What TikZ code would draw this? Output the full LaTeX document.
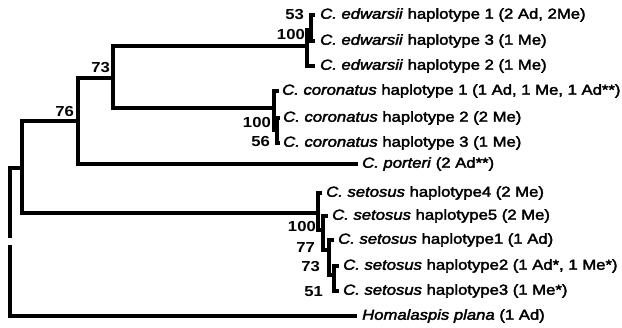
\documentclass[tikz,border=0pt]{standalone}
\usepackage{fontspec}
\setmainfont{Liberation Sans}[FakeStretch=1.15,
  UprightFeatures={FakeBold=2.5}, ItalicFeatures={FakeBold=2.5}]
\begin{document}
\begin{tikzpicture}[x=1pt,y=-1pt,
  br/.style={line width=3.1pt, line join=miter},
  lab/.style={anchor=west, inner sep=0pt, font=\fontsize{14.5}{16}\selectfont},
  bs/.style={anchor=east, inner sep=0pt, font=\fontsize{14.5}{16}\selectfont\bfseries}]
\useasboundingbox[fill=white] (0,0) rectangle (622,328);
% internal nodes and tips
\coordinate (n0) at (10,168);
\coordinate (gapA) at (10,238);
\coordinate (gapB) at (10,245);
\coordinate (n1) at (22,168);
\coordinate (n76) at (78,121);
\coordinate (nS1) at (318,213);
\coordinate (n73) at (113,78);
\coordinate (tPor) at (358,164);
\coordinate (nE) at (307,46);
\coordinate (nC) at (274,108);
\coordinate (nE2) at (311,30);
\coordinate (tE1) at (315,15);
\coordinate (tE3) at (315,41);
\coordinate (tE2) at (315,66);
\coordinate (nC2) at (277,130);
\coordinate (tC1) at (279,91);
\coordinate (tC2) at (280,118);
\coordinate (tC3) at (280,143);
\coordinate (tS4) at (322,193);
\coordinate (nS2) at (323,230);
\coordinate (tS5) at (328,216);
\coordinate (nS3) at (329,250);
\coordinate (tS1) at (334,240);
\coordinate (nS4) at (334,275);
\coordinate (tS2) at (339,266);
\coordinate (tS3) at (339,291);
\coordinate (tHom) at (357,316);
% branches
\draw[br] (n1) -| (n0) -- (gapA);
\draw[br] (gapB) |- (tHom);
\draw[br] (n76) -| (n1) |- (nS1);
\draw[br] (n73) -| (n76) |- (tPor);
\draw[br] (nE) -| (n73) |- (nC);
\draw[br] (nE2) -| (nE) |- (tE2);
\draw[br] (tE1) -| (nE2) |- (tE3);
\draw[br] (tC1) -| (nC) |- (nC2);
\draw[br] (tC2) -| (nC2) |- (tC3);
\draw[br] (tS4) -| (nS1) |- (nS2);
\draw[br] (tS5) -| (nS2) |- (nS3);
\draw[br] (tS1) -| (nS3) |- (nS4);
\draw[br] (tS2) -| (nS4) |- (tS3);
% leaf labels
\node[lab] (lE1) at (320,15) {\textit{C. edwarsii} haplotype 1 (2 Ad, 2Me)};
\node[lab] (lE3) at (320,41) {\textit{C. edwarsii} haplotype 3 (1 Me)};
\node[lab] (lE2) at (320,66) {\textit{C. edwarsii} haplotype 2 (1 Me)};
\node[lab] (lC1) at (282,91) {\textit{C. coronatus} haplotype 1 (1 Ad, 1 Me, 1 Ad**)};
\node[lab] (lC2) at (283,118) {\textit{C. coronatus} haplotype 2 (2 Me)};
\node[lab] (lC3) at (283,143) {\textit{C. coronatus} haplotype 3 (1 Me)};
\node[lab] (lPor) at (362,164) {\textit{C. porteri} (2 Ad**)};
\node[lab] (lS4) at (326,193) {\textit{C. setosus} haplotype4 (2 Me)};
\node[lab] (lS5) at (332,216) {\textit{C. setosus} haplotype5 (2 Me)};
\node[lab] (lS1) at (338,240) {\textit{C. setosus} haplotype1 (1 Ad)};
\node[lab] (lS2) at (343,266) {\textit{C. setosus} haplotype2 (1 Ad*, 1 Me*)};
\node[lab] (lS3) at (343,291) {\textit{C. setosus} haplotype3 (1 Me*)};
\node[lab] (lHom) at (362,316) {\textit{Homalaspis plana} (1 Ad)};
% bootstrap values
\node[bs] (b53) at (304,15) {53};
\node[bs] (b100e) at (305,35) {100};
\node[bs] (b73) at (110,68) {73};
\node[bs] (b76) at (74,112) {76};
\node[bs] (b100c) at (271,123) {100};
\node[bs] (b56) at (270,142) {56};
\node[bs] (b100s) at (316,227) {100};
\node[bs] (b77) at (315,248) {77};
\node[bs] (b73s) at (320,267) {73};
\node[bs] (b51) at (323,292) {51};
\end{tikzpicture}
\end{document}
